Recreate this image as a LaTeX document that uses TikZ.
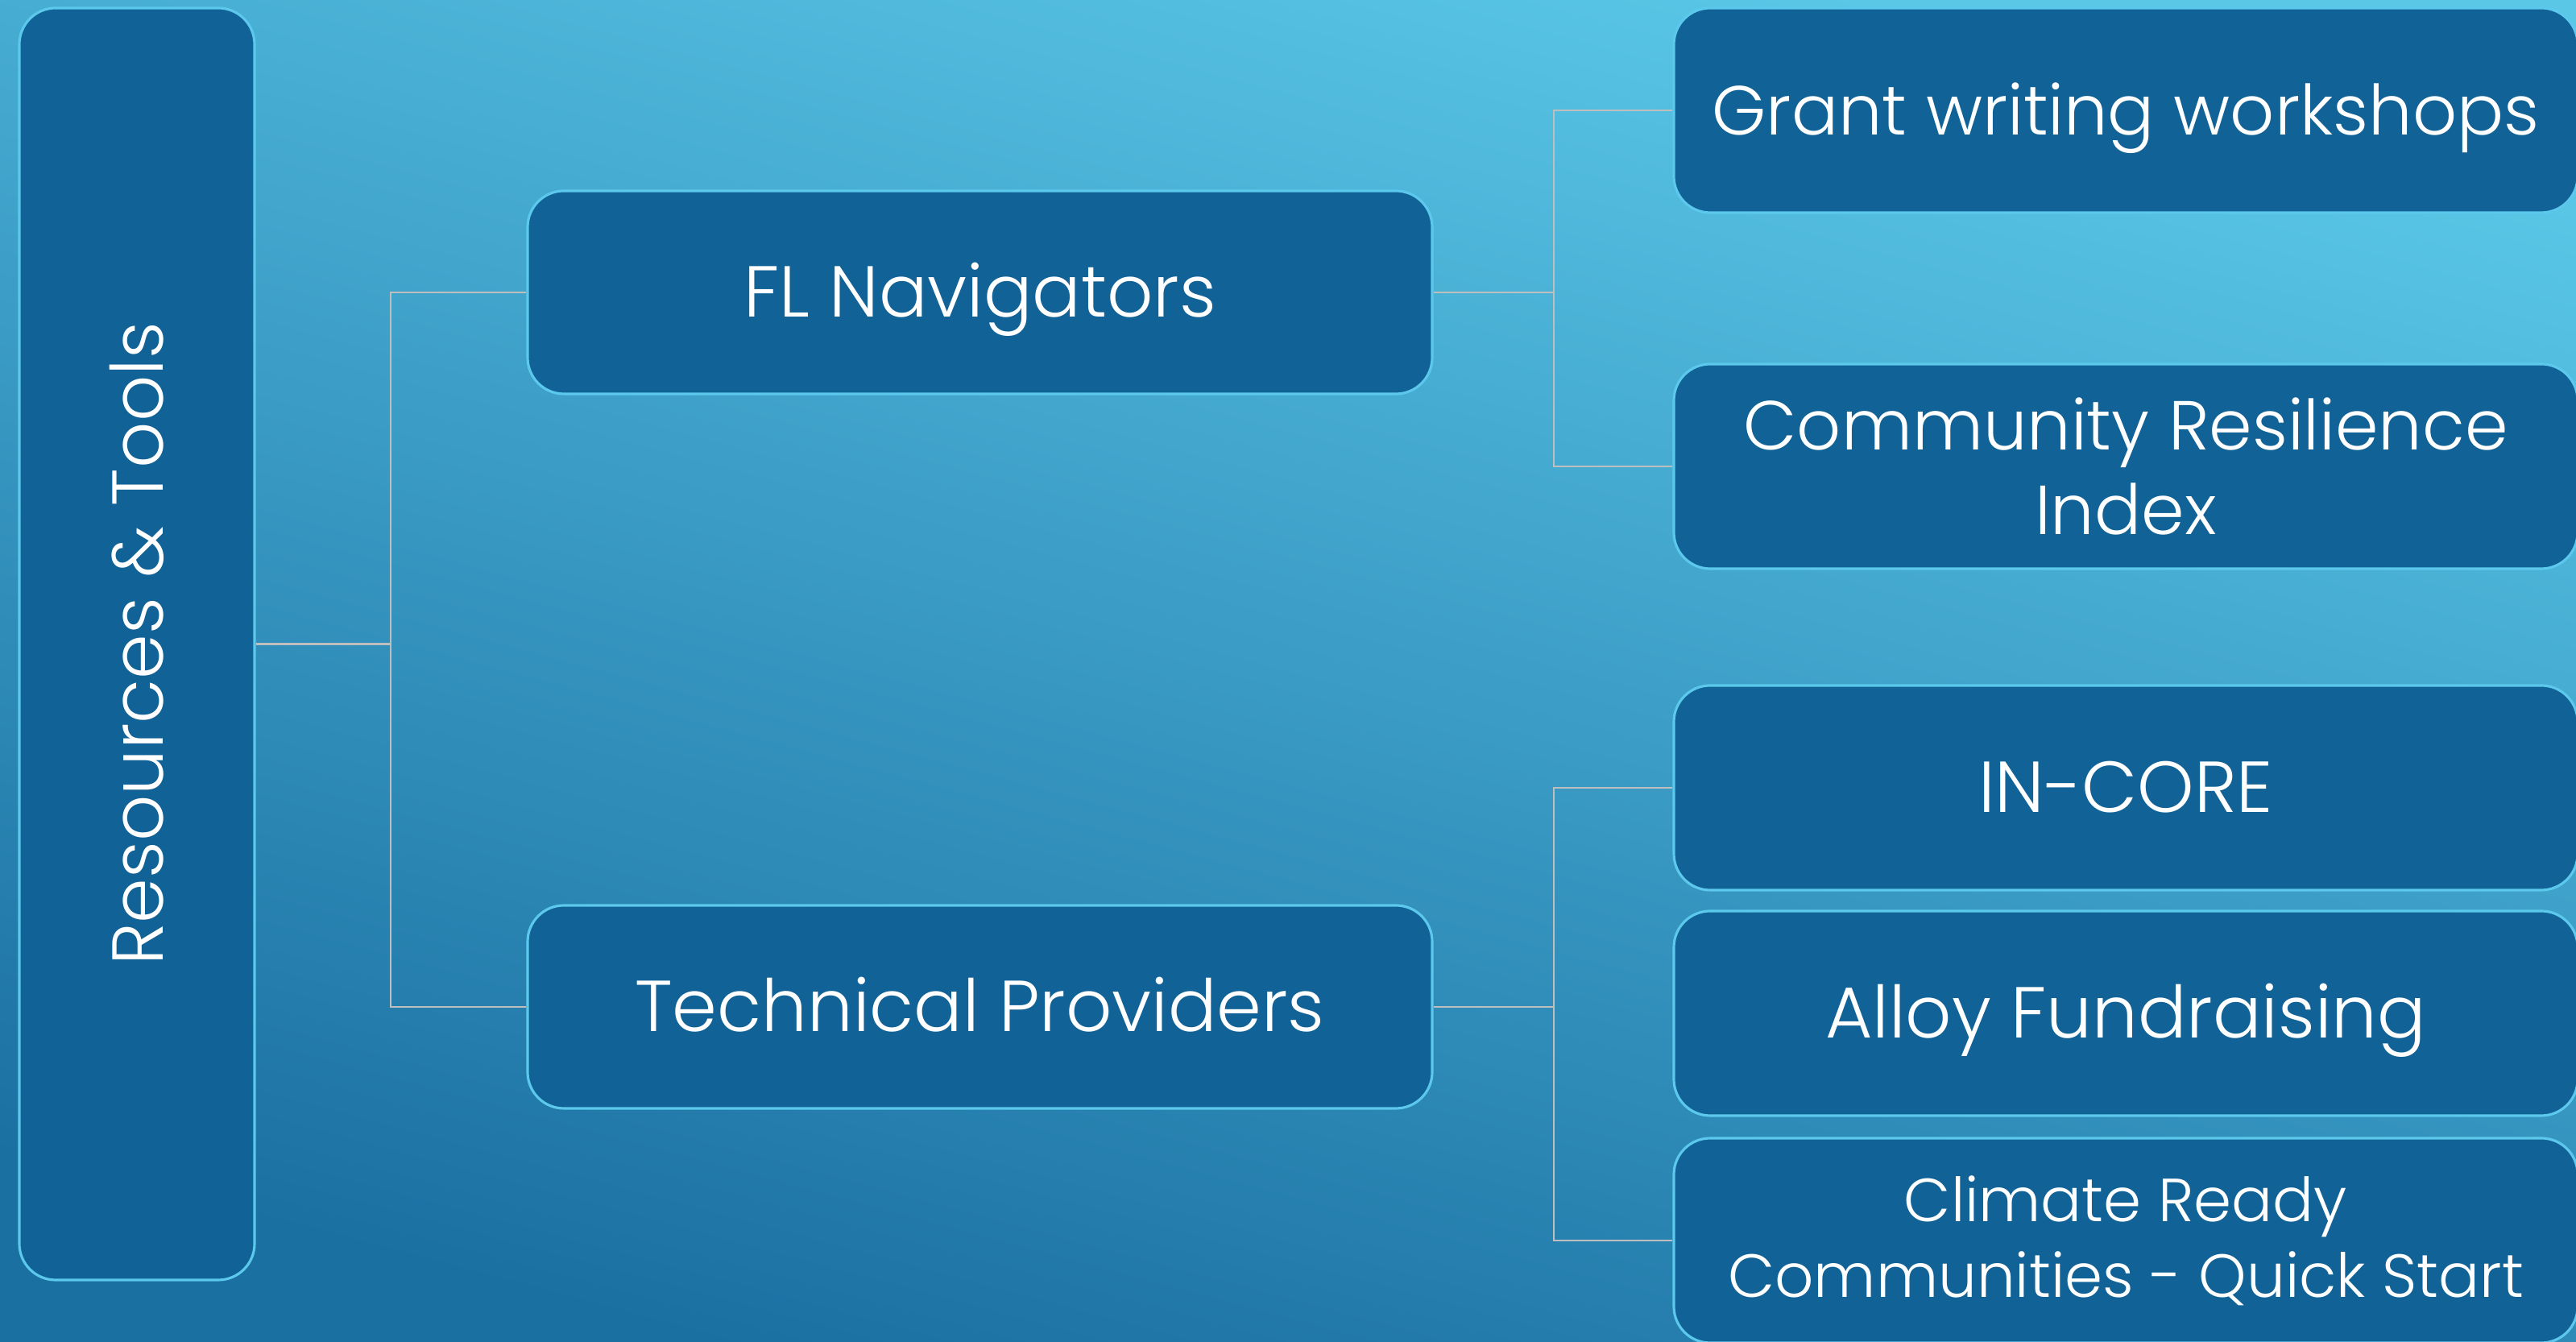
\documentclass[tikz,border=0pt]{standalone}
\usepackage{fontspec}
\setmainfont{Poppins}[UprightFont={* Light}]

\definecolor{boxblue}{RGB}{17,98,150}
\definecolor{boxedge}{RGB}{91,200,236}
\definecolor{linegray}{RGB}{190,190,190}
\definecolor{bgtop}{RGB}{90,199,231}
\definecolor{bgbottom}{RGB}{27,112,162}

\tikzset{
  box/.style={draw=boxedge, line width=0.9pt, fill=boxblue, rounded corners=0.45cm,
    text=white, align=center, inner sep=0pt, font={\fontsize{25.5}{30}\selectfont}},
  oneline/.style={text height=0.82cm, text depth=0.2cm},
  midbox/.style={box, oneline, minimum width=11.23cm, minimum height=2.52cm},
  leafbox/.style={box, minimum width=11.22cm, minimum height=2.54cm},
  conn/.style={draw=linegray, line width=0.7pt},
}

\begin{document}
\begin{tikzpicture}
    \useasboundingbox (0,0) rectangle (31.98,16.66);
    % Hintergrund:
    \shade[top color=bgtop, bottom color=bgbottom, shading angle=-15] (0,0) rectangle (31.98,16.66);
    % linke Spalte:
    \node[box, minimum width=2.92cm, minimum height=15.79cm] (root) at (1.70,8.665) {\rotatebox{90}{Resources \& Tools}};
    % mittlere Spalte:
    \node[midbox] (navigators) at (12.165,13.03) {FL Navigators};
    \node[midbox] (providers) at (12.165,4.16) {Technical Providers};
    % rechte Spalte:
    \node[leafbox, oneline, font={\fontsize{24.5}{30}\selectfont}] (grant) at (26.39,15.29) {Grant writing workshops};
    \node[leafbox, font={\fontsize{24.5}{30}\selectfont}] (cri) at (26.39,10.87) {Community Resilience\\Index};
    \node[leafbox, oneline] (incore) at (26.39,6.88) {IN-CORE};
    \node[leafbox, oneline] (alloy) at (26.39,4.08) {Alloy Fundraising};
    \node[leafbox, font={\fontsize{21.5}{26.7}\selectfont}] (climate) at (26.39,1.26) {Climate Ready\\Communities - Quick Start};
    % Verbinder:
    \coordinate (busA) at (4.85,8.665);
    \coordinate (busB) at (19.29,13.03);
    \coordinate (busC) at (19.29,4.16);
    \draw[conn] (root.east) -- (busA) |- (navigators.west);
    \draw[conn] (busA) |- (providers.west);
    \draw[conn] (navigators.east) -- (busB) |- (grant.west);
    \draw[conn] (busB) |- (cri.west);
    \draw[conn] (providers.east) -- (busC) |- (incore.west);
    \draw[conn] (busC) |- (climate.west);
\end{tikzpicture}
\end{document}
